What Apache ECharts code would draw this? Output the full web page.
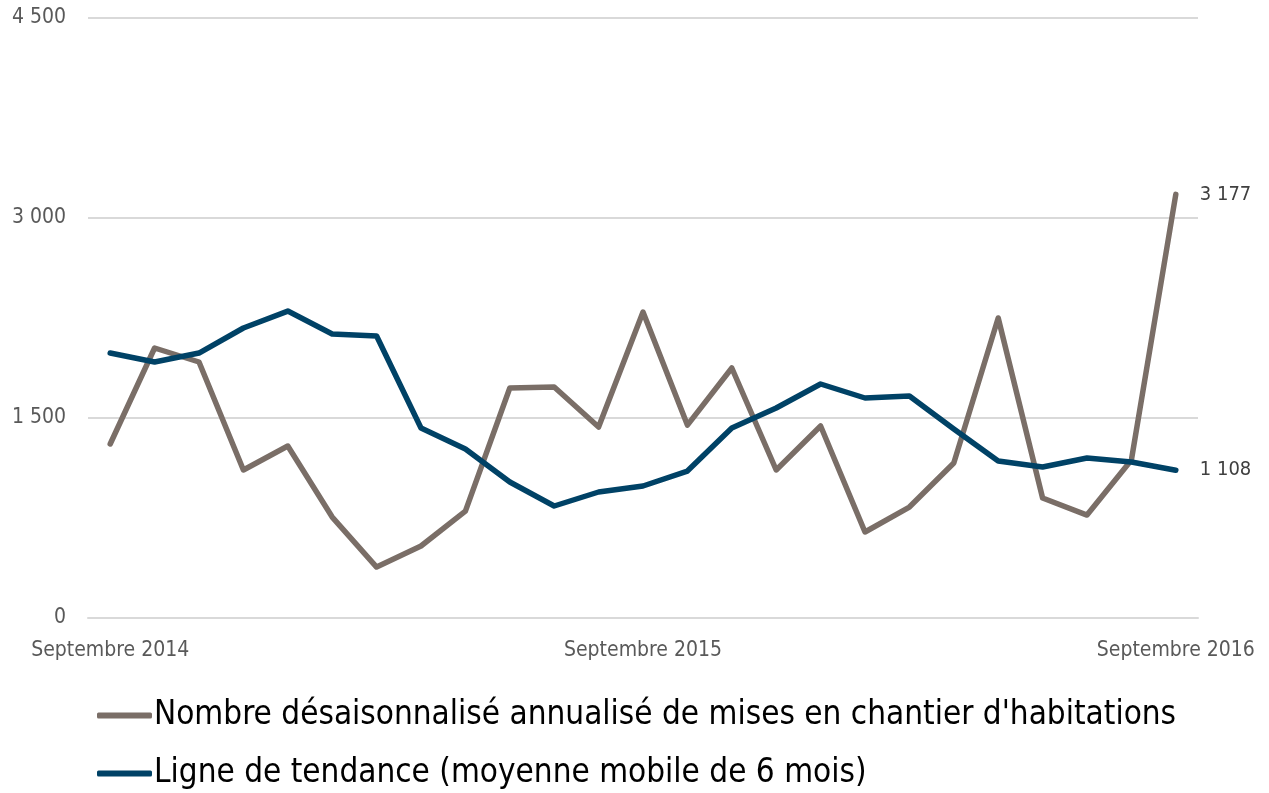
<!DOCTYPE html>
<html lang="fr">
<head>
    <meta charset="UTF-8">
    <title>Mises en chantier</title>
    <script type="text/javascript" src="https://cdn.jsdelivr.net/npm/echarts@6/dist/echarts.min.js"></script>
    <style>
        html, body { margin: 0; padding: 0; background: #fff; }
    </style>
</head>
<body>
<div id="chart" style="width: 1269px;height:793px;"></div>
<script type="text/javascript">

    // mois de septembre 2014 à septembre 2016
    const months = [
        'Septembre 2014', 'Octobre 2014', 'Novembre 2014', 'Décembre 2014',
        'Janvier 2015', 'Février 2015', 'Mars 2015', 'Avril 2015', 'Mai 2015',
        'Juin 2015', 'Juillet 2015', 'Août 2015', 'Septembre 2015',
        'Octobre 2015', 'Novembre 2015', 'Décembre 2015', 'Janvier 2016',
        'Février 2016', 'Mars 2016', 'Avril 2016', 'Mai 2016', 'Juin 2016',
        'Juillet 2016', 'Août 2016', 'Septembre 2016'
    ];

    const misesEnChantier = [
        1305, 2025, 1920, 1110, 1290, 757, 382, 540, 802, 1725, 1732, 1432, 2295,
        1447, 1875, 1110, 1440, 645, 832, 1162, 2250, 900, 772, 1185, 3177
    ];

    const tendance = [
        1987, 1920, 1987, 2175, 2302, 2130, 2115, 1425, 1267, 1020, 840, 945, 990,
        1102, 1425, 1575, 1755, 1650, 1665, 1417, 1177, 1132, 1200, 1170, 1108
    ];

    const seriesNames = [
        "Nombre désaisonnalisé annualisé de mises en chantier d'habitations",
        'Ligne de tendance (moyenne mobile de 6 mois)'
    ];

    const fontFamily = "'DejaVu Sans Condensed', 'Noto Sans', sans-serif";

    function fmt(v) {
        return String(v).replace(/\B(?=(\d{3})+(?!\d))/g, ' ');
    }

    function buildSeries(name, data, color) {
        return {
            name: name,
            type: 'line',
            data: data,
            showSymbol: false,
            symbol: 'none',
            animation: false,
            lineStyle: {
                color: color,
                width: 5.5,
                join: 'round',
                cap: 'round'
            },
            itemStyle: {color: color},
            endLabel: {
                show: true,
                distance: 24,
                fontSize: 20,
                fontFamily: fontFamily,
                color: '#404040',
                formatter: function (p) {
                    return fmt(p.value);
                }
            }
        };
    }

    // une légende par ligne, empilées
    function buildLegend(name, top) {
        return {
            orient: 'horizontal',
            left: 92,
            top: top,
            icon: 'roundRect',
            itemWidth: 55,
            itemHeight: 6,
            textStyle: {
                fontSize: 33,
                color: '#000000',
                fontFamily: fontFamily,
                padding: [0, 0, 0, -3]
            },
            data: [name]
        };
    }

    let option = {
        backgroundColor: '#ffffff',
        textStyle: {fontFamily: fontFamily},
        grid: {
            left: 88,
            right: 71,
            top: 18,
            bottom: 175
        },
        legend: [
            buildLegend(seriesNames[0], 694),
            buildLegend(seriesNames[1], 752)
        ],
        xAxis: {
            type: 'category',
            data: months,
            boundaryGap: true,
            axisLine: {show: true, lineStyle: {color: '#d9d9d9', width: 2}},
            axisTick: {show: false},
            axisLabel: {
                interval: 11,
                margin: 22,
                fontSize: 21,
                color: '#595959',
                fontFamily: fontFamily
            }
        },
        yAxis: {
            type: 'value',
            min: 0,
            max: 4500,
            interval: 1500,
            axisLine: {show: false},
            axisTick: {show: false},
            splitLine: {lineStyle: {color: '#d9d9d9', width: 2}},
            axisLabel: {
                margin: 22,
                fontSize: 21,
                color: '#595959',
                fontFamily: fontFamily,
                formatter: function (v) {
                    return fmt(v);
                }
            }
        },
        series: [
            buildSeries(seriesNames[0], misesEnChantier, '#7a6e67'),
            buildSeries(seriesNames[1], tendance, '#004266')
        ]
    };

    echarts.init(document.getElementById('chart')).setOption(option);
</script>
</body>
</html>
